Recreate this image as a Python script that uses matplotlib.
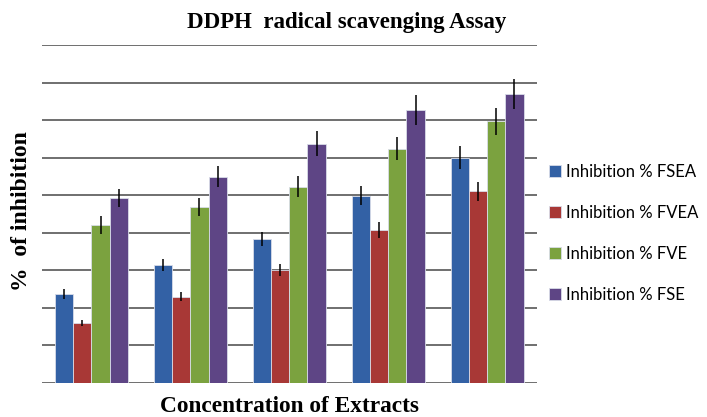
import numpy as np
import matplotlib.pyplot as plt

# values (percent of inhibition), 5 concentration groups
groups = ['C1', 'C2', 'C3', 'C4', 'C5']
series = ['Inhibition % FSEA', 'Inhibition % FVEA', 'Inhibition % FVE', 'Inhibition % FSE']
fsea = [23.7, 31.5, 38.4, 49.9, 60.0]
fvea = [15.9, 23.0, 30.2, 40.8, 51.0]
fve = [42.1, 46.9, 52.3, 62.4, 69.7]
fse = [49.3, 54.9, 63.7, 72.7, 77.0]
fsea_err = [1.3, 1.6, 1.9, 2.6, 3.1]
fvea_err = [0.8, 1.2, 1.6, 2.1, 2.6]
fve_err = [2.3, 2.4, 2.7, 3.1, 3.6]
fse_err = [2.4, 2.8, 3.3, 3.9, 3.9]

colors = ['#3361A5', '#A83836', '#7BA23F', '#5E4585']

fig = plt.figure(figsize=(7.07, 4.17), dpi=100)
ax = fig.add_axes([0.0594, 0.0815, 0.7001, 0.8105])

x = np.arange(len(groups))
w = 0.182
vals = [fsea, fvea, fve, fse]
errs = [fsea_err, fvea_err, fve_err, fse_err]
for i, (v, e) in enumerate(zip(vals, errs)):
    ax.bar(x + (i - 1.5) * w, v, w, yerr=e, color=colors[i], edgecolor='#d8dce8',
           linewidth=0.6, label=series[i], zorder=3,
           error_kw=dict(ecolor='black', elinewidth=1.1, capsize=0))

ax.set_xlim(-0.5, 4.5)
ax.set_ylim(0, 90)
ax.set_yticks(np.arange(0, 91, 10))
ax.set_xticks([])
ax.tick_params(axis='y', length=0, labelleft=False)
ax.grid(axis='y', color='#6f6f6f', linewidth=1.4, zorder=0)
for s in ax.spines.values():
    s.set_visible(False)

fig.text(0.49, 0.945, 'DDPH  radical scavenging Assay', ha='center', va='center',
         fontsize=16.5, fontweight='bold', family='Liberation Serif')
fig.text(0.031, 0.495, '%  of inhibition', ha='center', va='center', rotation=90,
         fontsize=17, fontweight='bold', family='Liberation Serif')
fig.text(0.41, 0.025, 'Concentration of Extracts', ha='center', va='center',
         fontsize=16.8, fontweight='bold', family='Liberation Serif')

leg = fig.legend(loc='center left', bbox_to_anchor=(0.755, 0.44), frameon=False,
                 prop={'family': 'Lato', 'size': 12}, labelspacing=1.5,
                 handlelength=0.75, handleheight=0.75, handletextpad=0.3)

plt.savefig('out.png', dpi=100)
plt.close()
